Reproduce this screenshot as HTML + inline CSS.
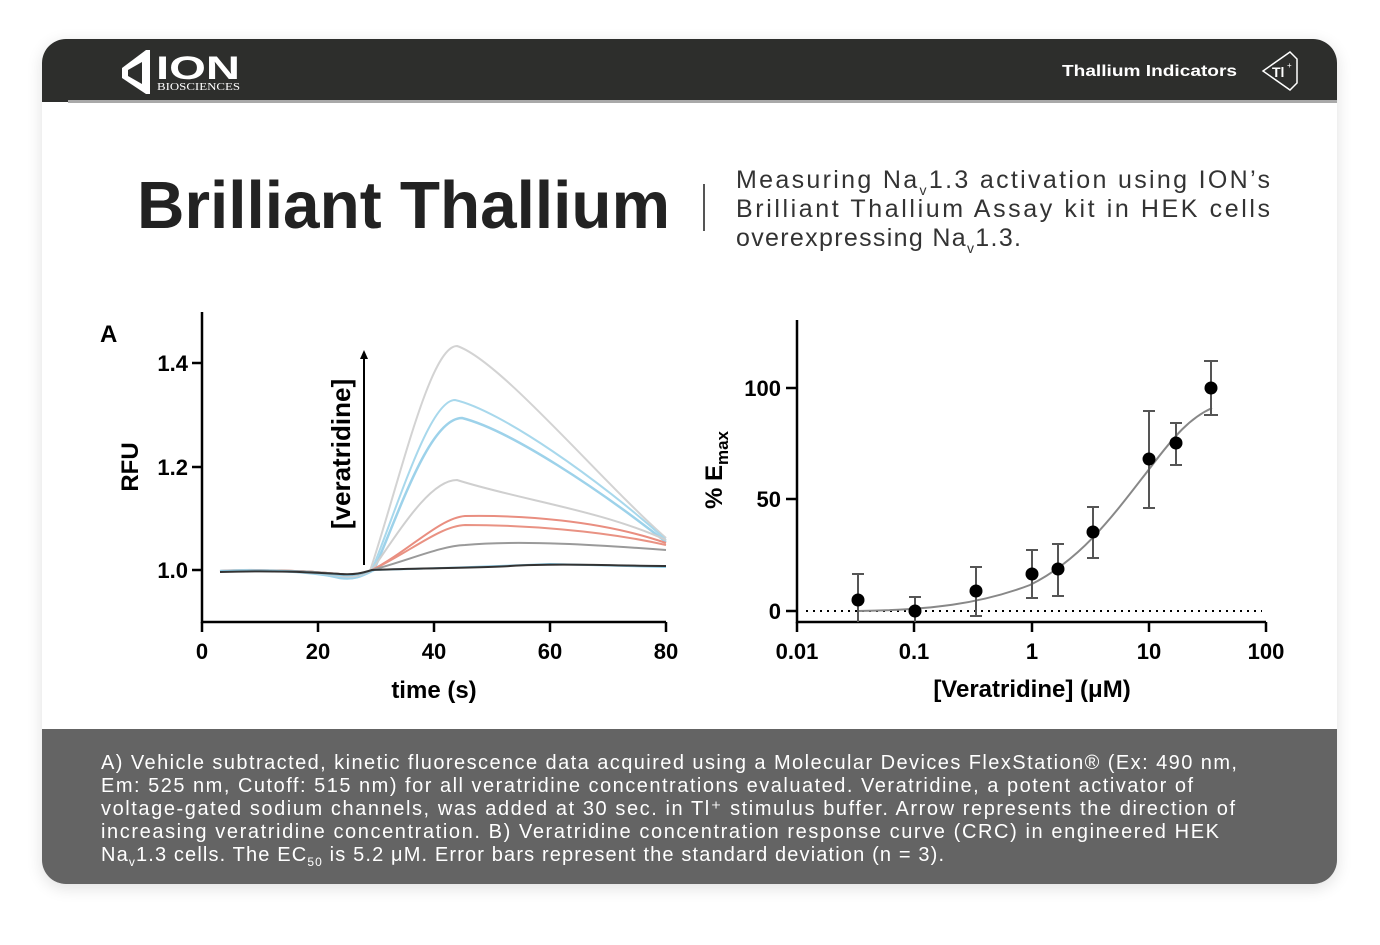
<!DOCTYPE html>
<html><head><meta charset="utf-8"><style>
body{margin:0;background:#fff;width:1380px;height:940px;overflow:hidden;font-family:"Liberation Sans",sans-serif}
</style></head><body>
<svg width="1380" height="940" viewBox="0 0 1380 940" xmlns="http://www.w3.org/2000/svg" font-family="Liberation Sans, sans-serif">
<defs><filter id="sh" x="-5%" y="-5%" width="110%" height="110%"><feGaussianBlur stdDeviation="8"/></filter>
<clipPath id="card"><rect x="42" y="39" width="1295" height="845" rx="24"/></clipPath></defs>
<rect x="42" y="43" width="1295" height="845" rx="24" fill="#000" opacity="0.12" filter="url(#sh)"/>
<g clip-path="url(#card)">
<rect x="42" y="39" width="1295" height="845" fill="#fff"/>
<rect x="42" y="39" width="1295" height="63" fill="#2d2e2c"/>
<rect x="68" y="100" width="1269" height="3" fill="#a9a9a9"/>
<rect x="42" y="729" width="1295" height="155" fill="#646464"/>
</g>
<polygon points="146,50 150,50 150,94 146,94 122,78 122,68" fill="#fff"/>
<polygon points="128,70 142,62 142,84 128,76" fill="#2d2e2c"/>
<text x="156" y="79" font-size="32" font-weight="bold" fill="#fff" textLength="84" lengthAdjust="spacingAndGlyphs">ION</text>
<text x="157" y="90" font-size="11" font-family="Liberation Serif, serif" fill="#fff" textLength="83" lengthAdjust="spacingAndGlyphs">BIOSCIENCES</text>
<text x="1062" y="76" font-size="16" font-weight="bold" fill="#fff" textLength="175" lengthAdjust="spacingAndGlyphs">Thallium Indicators</text>
<polygon points="1290,52 1297,59 1297,83 1290,90 1263,71" fill="none" stroke="#fff" stroke-width="1.5"/>
<text x="1272" y="77" font-size="14" font-weight="bold" fill="#fff">Tl</text><text x="1287" y="68" font-size="8" fill="#fff">+</text>
<text x="137" y="228" font-size="67" font-weight="bold" fill="#222" textLength="533" lengthAdjust="spacingAndGlyphs">Brilliant Thallium</text>
<rect x="703" y="184" width="2" height="47" fill="#555"/>
<g font-size="25" fill="#333">
<text x="736" y="188" textLength="534" lengthAdjust="spacing">Measuring Na<tspan font-size="14" dy="7">v</tspan><tspan dy="-7">1.3 activation using ION’s</tspan></text>
<text x="736" y="217" textLength="534" lengthAdjust="spacing">Brilliant Thallium Assay kit in HEK cells</text>
<text x="736" y="246" textLength="285" lengthAdjust="spacing">overexpressing Na<tspan font-size="14" dy="7">v</tspan><tspan dy="-7">1.3.</tspan></text>
</g>
<text x="100" y="342" font-size="24" font-weight="bold" fill="#000">A</text>
<g stroke="#000" stroke-width="2.5" fill="none">
<path d="M202,312 V622 H666"/>
<path d="M192,363 H202 M192,467 H202 M192,570 H202"/>
<path d="M202,622 v10 M318,622 v10 M434,622 v10 M550,622 v10 M666,622 v10"/>
</g>
<g font-size="22" font-weight="bold" fill="#000" text-anchor="end">
<text x="188" y="371">1.4</text><text x="188" y="475">1.2</text><text x="188" y="578">1.0</text></g>
<g font-size="22" font-weight="bold" fill="#000" text-anchor="middle">
<text x="202" y="659">0</text><text x="318" y="659">20</text><text x="434" y="659">40</text><text x="550" y="659">60</text><text x="666" y="659">80</text>
<text x="434" y="698" font-size="24">time (s)</text></g>
<text transform="translate(138,467) rotate(-90)" font-size="24" font-weight="bold" text-anchor="middle">RFU</text>
<text transform="translate(350,454) rotate(-90)" font-size="26" font-weight="bold" text-anchor="middle">[veratridine]</text>
<line x1="364" y1="565" x2="364" y2="358" stroke="#000" stroke-width="2"/>
<polygon points="364,350 360,359 368,359" fill="#000"/>
<g fill="none" stroke-width="2">
<path d="M220,571 C260,568 300,572 330,574 C350,578 360,575 370,571 C400,480 430,346 457,346 C500,360 600,480 666,538" stroke="#d3d3d3"/>
<path d="M220,571 C280,569 320,573 340,578 C355,580 362,576 372,570 C400,500 430,400 455,400 C500,410 600,480 666,540" stroke="#a8d8ec"/>
<path d="M220,571 C280,569 320,573 340,578 C355,580 362,576 374,570 C400,510 430,418 462,418 C510,430 600,490 666,542" stroke="#9dd2ea" stroke-width="2.5"/>
<path d="M220,571 C280,569 320,573 340,576 C355,578 362,575 372,570 C400,530 430,480 457,480 C520,500 600,510 666,540" stroke="#cfcfcf"/>
<path d="M220,571 C280,569 320,572 340,574 C355,576 362,574 372,570 C410,550 440,518 465,516 C520,515 600,520 666,543" stroke="#e98e80"/>
<path d="M220,571 C280,569 320,572 340,574 C355,576 362,574 372,570 C410,552 440,526 465,525 C520,525 600,530 666,545" stroke="#e99283"/>
<path d="M220,571 C280,569 320,572 340,574 C355,576 362,574 372,570 C410,560 440,546 465,545 C520,540 600,545 666,550" stroke="#9a9a9a"/>
<path d="M220,571 C280,569 320,573 340,575 C355,576 362,574 372,570 C450,568 500,566 550,564 C600,565 640,566 666,567" stroke="#8ccbe6"/>
<path d="M220,572 C280,570 320,573 340,574 C355,575 362,573 372,570 C420,568 480,568 510,566 C560,563 620,566 666,566" stroke="#333"/>
</g>
<g stroke="#000" stroke-width="2.5" fill="none">
<path d="M797,320 V622 H1266"/>
<path d="M786,388 H797 M786,499 H797 M786,611 H797"/>
<path d="M797,622 v10 M914,622 v10 M1032,622 v10 M1149,622 v10 M1266,622 v10"/>
</g>
<line x1="806" y1="611" x2="1262" y2="611" stroke="#000" stroke-width="2" stroke-dasharray="2,5"/>
<g font-size="22" font-weight="bold" fill="#000" text-anchor="end">
<text x="781" y="396">100</text><text x="781" y="507">50</text><text x="781" y="619">0</text></g>
<g font-size="22" font-weight="bold" fill="#000" text-anchor="middle">
<text x="797" y="659">0.01</text><text x="914" y="659">0.1</text><text x="1032" y="659">1</text><text x="1149" y="659">10</text><text x="1266" y="659">100</text>
<text x="1032" y="697" font-size="24">[Veratridine] (μM)</text></g>
<text transform="translate(722,470) rotate(-90)" font-size="24" font-weight="bold" text-anchor="middle">% E<tspan font-size="17" dy="6">max</tspan></text>
<path d="M858,611 C930,610 980,604 1030,585 C1080,560 1110,520 1150,468 C1175,435 1190,418 1212,408" fill="none" stroke="#888" stroke-width="2"/>
<g stroke="#555" stroke-width="2" fill="none">
<path d="M858,574 V622 M852,574 h12"/>
<path d="M915,597 V622 M909,597 h12"/>
<path d="M976,567 V616 M970,567 h12 M970,616 h12"/>
<path d="M1032,550 V598 M1026,550 h12 M1026,598 h12"/>
<path d="M1058,544 V596 M1052,544 h12 M1052,596 h12"/>
<path d="M1093,507 V558 M1087,507 h12 M1087,558 h12"/>
<path d="M1149,411 V508 M1143,411 h12 M1143,508 h12"/>
<path d="M1176,423 V465 M1170,423 h12 M1170,465 h12"/>
<path d="M1211,361 V415 M1204,361 h14 M1204,415 h14"/>
</g>
<g fill="#000">
<circle cx="858" cy="600" r="6.5"/><circle cx="915" cy="611" r="6.5"/><circle cx="976" cy="591" r="6.5"/>
<circle cx="1032" cy="574" r="6.5"/><circle cx="1058" cy="569" r="6.5"/><circle cx="1093" cy="532" r="6.5"/>
<circle cx="1149" cy="459" r="6.5"/><circle cx="1176" cy="443" r="6.5"/><circle cx="1211" cy="388" r="6.5"/>
</g>
<g font-size="20" fill="#fff">
<text x="101" y="769" textLength="1136" lengthAdjust="spacing">A) Vehicle subtracted, kinetic fluorescence data acquired using a Molecular Devices FlexStation® (Ex: 490 nm,</text>
<text x="101" y="792" textLength="1092" lengthAdjust="spacing">Em: 525 nm, Cutoff: 515 nm) for all veratridine concentrations evaluated. Veratridine, a potent activator of</text>
<text x="101" y="815" textLength="1134" lengthAdjust="spacing">voltage-gated sodium channels, was added at 30 sec. in Tl⁺ stimulus buffer. Arrow represents the direction of</text>
<text x="101" y="838" textLength="1118" lengthAdjust="spacing">increasing veratridine concentration. B) Veratridine concentration response curve (CRC) in engineered HEK</text>
<text x="101" y="861" textLength="843" lengthAdjust="spacing">Na<tspan font-size="12" dy="5">v</tspan><tspan dy="-5">1.3 cells. The EC</tspan><tspan font-size="12" dy="5">50</tspan><tspan dy="-5"> is 5.2 μM. Error bars represent the standard deviation (n = 3).</tspan></text>
</g>
</svg>
</body></html>
